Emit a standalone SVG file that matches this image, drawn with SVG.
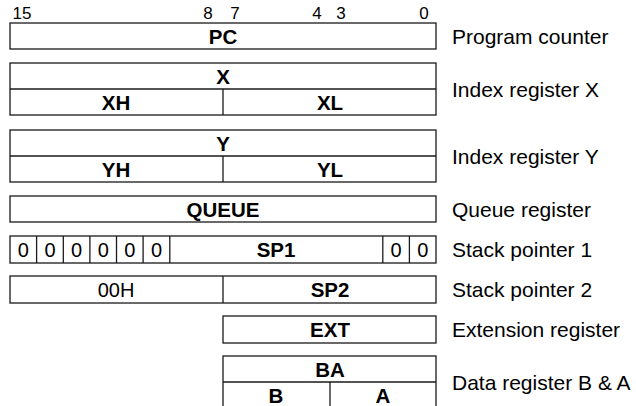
<svg xmlns="http://www.w3.org/2000/svg" width="636" height="406" viewBox="0 0 636 406">
<style>
rect, line { fill: none; stroke: #1a1a1a; stroke-width: 1.3; }
.bg { fill: #ffffff; stroke: none; }
.b { font-family: "Liberation Sans", Arial, sans-serif; font-weight: bold; font-size: 20.5px; fill: #000; text-anchor: middle; }
.r { font-family: "Liberation Sans", Arial, sans-serif; font-size: 20px; fill: #000; text-anchor: middle; }
.n { font-family: "Liberation Sans", Arial, sans-serif; font-size: 17px; fill: #000; text-anchor: middle; }
.s { font-family: "Liberation Sans", Arial, sans-serif; font-size: 21px; fill: #000; }
</style>
<rect class="bg" x="0" y="0" width="636" height="406"/>
<g id="bits">
<text class="n" x="22" y="19">15</text>
<text class="n" x="208" y="19">8</text>
<text class="n" x="235" y="19">7</text>
<text class="n" x="317" y="19">4</text>
<text class="n" x="341" y="19">3</text>
<text class="n" x="424" y="19">0</text>
</g>
<g id="pc">
<rect x="10" y="23" width="426" height="26"/>
<text class="b" x="223" y="43.5">PC</text>
<text class="s" x="452" y="43.5">Program counter</text>
</g>
<g id="x">
<rect x="10" y="63" width="426" height="52"/>
<line x1="10" y1="89" x2="436" y2="89"/>
<line x1="223" y1="89" x2="223" y2="115"/>
<text class="b" x="223" y="83.5">X</text>
<text class="b" x="116" y="109.5">XH</text>
<text class="b" x="330" y="109.5">XL</text>
<text class="s" x="452" y="96.5">Index register X</text>
</g>
<g id="y">
<rect x="10" y="130" width="426" height="52"/>
<line x1="10" y1="156" x2="436" y2="156"/>
<line x1="223" y1="156" x2="223" y2="182"/>
<text class="b" x="223" y="150.5">Y</text>
<text class="b" x="116" y="176.5">YH</text>
<text class="b" x="330" y="176.5">YL</text>
<text class="s" x="452" y="163.5">Index register Y</text>
</g>
<g id="queue">
<rect x="10" y="196" width="426" height="26"/>
<text class="b" x="223" y="216.5">QUEUE</text>
<text class="s" x="452" y="216.5">Queue register</text>
</g>
<g id="sp1">
<rect x="10" y="236" width="426" height="27"/>
<line x1="36.6" y1="236" x2="36.6" y2="263"/>
<line x1="63.3" y1="236" x2="63.3" y2="263"/>
<line x1="89.9" y1="236" x2="89.9" y2="263"/>
<line x1="116.5" y1="236" x2="116.5" y2="263"/>
<line x1="143.1" y1="236" x2="143.1" y2="263"/>
<line x1="169.8" y1="236" x2="169.8" y2="263"/>
<line x1="382.8" y1="236" x2="382.8" y2="263"/>
<line x1="409.4" y1="236" x2="409.4" y2="263"/>
<text class="r" x="23.3" y="256.5">0</text>
<text class="r" x="50" y="256.5">0</text>
<text class="r" x="76.6" y="256.5">0</text>
<text class="r" x="103.2" y="256.5">0</text>
<text class="r" x="129.8" y="256.5">0</text>
<text class="r" x="156.5" y="256.5">0</text>
<text class="b" x="276" y="256.5">SP1</text>
<text class="r" x="396.1" y="256.5">0</text>
<text class="r" x="422.7" y="256.5">0</text>
<text class="s" x="452" y="256.5">Stack pointer 1</text>
</g>
<g id="sp2">
<rect x="10" y="276" width="426" height="27"/>
<line x1="223" y1="276" x2="223" y2="303"/>
<text class="r" x="116" y="296.5">00H</text>
<text class="b" x="330" y="296.5">SP2</text>
<text class="s" x="452" y="296.5">Stack pointer 2</text>
</g>
<g id="ext">
<rect x="223" y="316" width="213" height="27"/>
<text class="b" x="330" y="336.5">EXT</text>
<text class="s" x="452" y="336.5">Extension register</text>
</g>
<g id="ba">
<rect x="223" y="356" width="213" height="54"/>
<line x1="223" y1="382" x2="436" y2="382"/>
<line x1="330" y1="382" x2="330" y2="410"/>
<text class="b" x="330" y="376.5">BA</text>
<text class="b" x="276" y="402.5">B</text>
<text class="b" x="383" y="402.5">A</text>
<text class="s" x="452" y="389.5">Data register B &amp; A</text>
</g>
</svg>
